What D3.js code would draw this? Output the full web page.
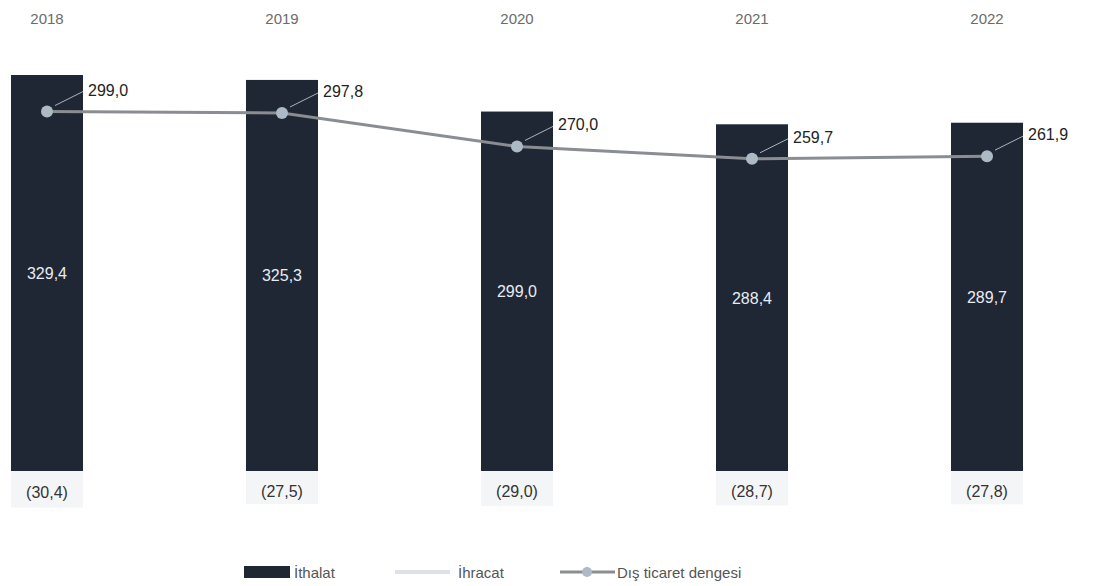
<!DOCTYPE html>
<html><head><meta charset="utf-8">
<script src="https://cdn.jsdelivr.net/npm/d3@7"></script>
<style>html,body{margin:0;padding:0;background:#fff;}svg{display:block;font-family:"Liberation Sans",Arial,sans-serif;}</style>
</head><body>
<svg id="c" width="1095" height="586"></svg>
<script>
const years = ["2018","2019","2020","2021","2022"];
const ithalat = [329.4, 325.3, 299.0, 288.4, 289.7];
const ihracat = [-30.4, -27.5, -29.0, -28.7, -27.8];
const denge = [299.0, 297.8, 270.0, 259.7, 261.9];
const legendLabels = ["İthalat", "İhracat", "Dış ticaret dengesi"];

const fmt = v => d3.format(".1f")(Math.abs(v)).replace(".", ",");
const svg = d3.select("#c");
const x = d3.scalePoint().domain(years).range([47, 987]);
const y = d3.scaleLinear().domain([0, 329.4]).range([471, 75]);
const bw = 72;

// year labels at top
svg.selectAll(".yr").data(years).join("text")
  .attr("x", d => x(d)).attr("y", 24).attr("text-anchor", "middle")
  .attr("font-size", 15).attr("fill", "#6b6b6b").text(d => d);

// ihracat bars (light)
svg.selectAll(".ih").data(years).join("rect")
  .attr("x", d => x(d) - bw/2).attr("width", bw)
  .attr("y", y(0)).attr("height", (d,i) => y(ihracat[i]) - y(0))
  .attr("fill", "#f3f5f7");

// ithalat bars (dark)
svg.selectAll(".it").data(years).join("rect")
  .attr("x", d => x(d) - bw/2).attr("width", bw)
  .attr("y", (d,i) => y(ithalat[i])).attr("height", (d,i) => y(0) - y(ithalat[i]))
  .attr("fill", "#1f2634");

// ithalat labels
svg.selectAll(".itl").data(years).join("text")
  .attr("x", d => x(d)).attr("y", (d,i) => y(ithalat[i] / 2) + 6)
  .attr("text-anchor", "middle").attr("font-size", 16).attr("fill", "#e8ecf2")
  .text((d,i) => fmt(ithalat[i]));

// ihracat labels
svg.selectAll(".ihl").data(years).join("text")
  .attr("x", d => x(d)).attr("y", (d,i) => y(ihracat[i] / 2) + 9)
  .attr("text-anchor", "middle").attr("font-size", 16).attr("fill", "#333")
  .text((d,i) => "(" + fmt(ihracat[i]) + ")");

// line
const line = d3.line().x((d,i) => x(years[i])).y(d => y(d));
svg.append("path").datum(denge).attr("d", line)
  .attr("fill", "none").attr("stroke", "#8a8d91").attr("stroke-width", 3);

// leader lines
svg.selectAll(".ld").data(denge).join("line")
  .attr("x1", (d,i) => x(years[i]) + 8).attr("y1", d => y(d) - 6)
  .attr("x2", (d,i) => x(years[i]) + 36).attr("y2", d => y(d) - 20)
  .attr("stroke", "#a9b4c2").attr("stroke-width", 1);

// markers
svg.selectAll(".mk").data(denge).join("circle")
  .attr("cx", (d,i) => x(years[i])).attr("cy", d => y(d)).attr("r", 6)
  .attr("fill", "#aeb9c6");

// denge labels
svg.selectAll(".dl").data(denge).join("text")
  .attr("x", (d,i) => x(years[i]) + 41).attr("y", d => y(d) - 16)
  .attr("font-size", 16).attr("fill", "#222")
  .text(d => fmt(d));

// legend
const lg = svg.append("g").attr("font-size", 15).attr("fill", "#555");
lg.append("rect").attr("x", 244).attr("y", 566).attr("width", 46).attr("height", 12).attr("fill", "#1f2634");
lg.append("text").attr("x", 294).attr("y", 578).text(legendLabels[0]);
lg.append("line").attr("x1", 395).attr("x2", 450).attr("y1", 572).attr("y2", 572).attr("stroke", "#dde2e8").attr("stroke-width", 4);
lg.append("text").attr("x", 458).attr("y", 578).text(legendLabels[1]);
lg.append("line").attr("x1", 560).attr("x2", 615).attr("y1", 572).attr("y2", 572).attr("stroke", "#8a8d91").attr("stroke-width", 3);
lg.append("circle").attr("cx", 587).attr("cy", 572).attr("r", 5).attr("fill", "#aeb9c6");
lg.append("text").attr("x", 617).attr("y", 578).text(legendLabels[2]);
</script>
</body></html>
